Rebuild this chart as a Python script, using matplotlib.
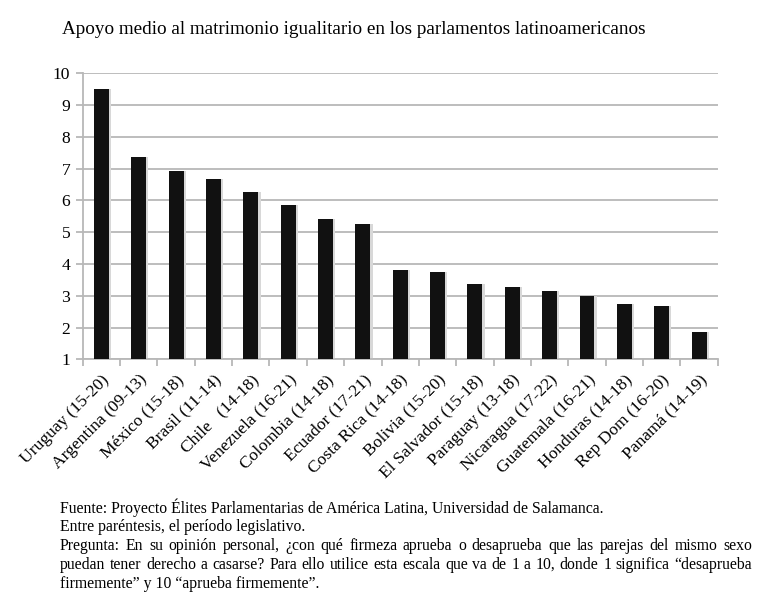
import matplotlib.pyplot as plt
import numpy as np

plt.rcParams['font.family'] = ['Liberation Serif', 'DejaVu Serif']

paises = ['Uruguay (15-20)', 'Argentina (09-13)', 'México (15-18)', 'Brasil (11-14)',
          'Chile   (14-18)', 'Venezuela (16-21)', 'Colombia (14-18)', 'Ecuador (17-21)',
          'Costa Rica (14-18)', 'Bolivia (15-20)', 'El Salvador (15-18)', 'Paraguay (13-18)',
          'Nicaragua (17-22)', 'Guatemala (16-21)', 'Honduras (14-18)', 'Rep Dom (16-20)',
          'Panamá (14-19)']
apoyo = [9.52, 7.38, 6.94, 6.67, 6.28, 5.87, 5.43, 5.25, 3.80,
         3.75, 3.36, 3.26, 3.14, 2.98, 2.73, 2.67, 1.85]

titulo = 'Apoyo medio al matrimonio igualitario en los parlamentos latinoamericanos'
nota = ['Fuente: Proyecto Élites Parlamentarias de América Latina, Universidad de Salamanca.',
        'Entre paréntesis, el período legislativo.',
        'Pregunta: En su opinión personal, ¿con qué firmeza aprueba o desaprueba que las parejas del mismo sexo',
        'puedan tener derecho a casarse? Para ello utilice esta escala que va de 1 a 10, donde 1 significa “desaprueba',
        'firmemente” y 10 “aprueba firmemente”.']
justificar = [False, False, True, True, False]

fig = plt.figure(figsize=(7.84, 6.13), dpi=100)
ax = fig.add_axes([0.1055, 0.4139, 0.81, 0.4665])

x = np.arange(len(paises))
# sombra suave detrás de las barras
ax.bar(x + 0.06, np.array(apoyo) - 1, bottom=1, width=0.40, color='#d8d8d8', zorder=2)
ax.bar(x, np.array(apoyo) - 1, bottom=1, width=0.40, color='#111111', zorder=3)

ax.set_xlim(-0.5, len(paises) - 0.5)
ax.set_ylim(1, 10)
ax.set_yticks(range(1, 11))
ax.yaxis.grid(True, color='#b8b8b8', linewidth=1.3, zorder=0)
ax.set_axisbelow(True)

ax.set_xticks(x)
ax.set_xticklabels(paises, rotation=45, ha='right', rotation_mode='anchor', fontsize=12.6)
ax.set_xticks(np.arange(-0.5, len(paises)), minor=True)
ax.tick_params(axis='x', which='major', length=0, pad=9)
ax.tick_params(axis='x', which='minor', length=5, color='#b8b8b8', width=1.3)
ax.tick_params(axis='y', length=5, color='#b8b8b8', width=1.3, labelsize=12.6, pad=4)

for lado in ['top', 'right']:
    ax.spines[lado].set_visible(False)
for lado in ['left', 'bottom']:
    ax.spines[lado].set_color('#b8b8b8')
    ax.spines[lado].set_linewidth(1.3)

fig.text(62 / 784, 1 - 29 / 613, titulo, fontsize=13.8, va='center', ha='left')

# notas al pie, con justificado para el párrafo de la pregunta
fig.canvas.draw()
renderer = fig.canvas.get_renderer()
x0, x1 = 60, 752
y_lineas = [508, 527, 546, 565, 584]
for linea, just, yp in zip(nota, justificar, y_lineas):
    yf = 1 - yp / 613
    if not just:
        fig.text(x0 / 784, yf, linea, fontsize=11.3, va='center', ha='left')
        continue
    palabras = linea.split(' ')
    textos = [fig.text(0, yf, p, fontsize=11.3, va='center', ha='left') for p in palabras]
    anchos = [t.get_window_extent(renderer).width for t in textos]
    hueco = (x1 - x0 - sum(anchos)) / (len(palabras) - 1)
    pos = x0
    for t, w in zip(textos, anchos):
        t.set_x(pos / 784)
        pos += w + hueco

plt.savefig('out.png', dpi=100)
